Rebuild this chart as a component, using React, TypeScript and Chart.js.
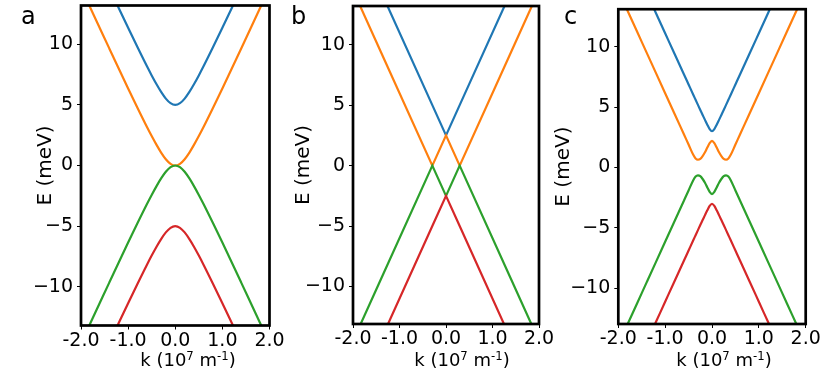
import React, { useEffect, useRef } from 'react';
import { Chart, registerables } from 'chart.js';

Chart.register(...registerables);

const FONT = "'DejaVu Sans', sans-serif";
const BLUE = '#1f77b4';
const ORANGE = '#ff7f0e';
const GREEN = '#2ca02c';
const RED = '#d62728';

// ---------- data (k in 10^7 m^-1, E in meV) ----------
const K_A = [-2.0, -1.8, -1.6, -1.4, -1.2, -1.0, -0.8, -0.6, -0.5, -0.4, -0.3, -0.2, -0.1, 0, 0.1, 0.2, 0.3, 0.4, 0.5, 0.6, 0.8, 1.0, 1.2, 1.4, 1.6, 1.8, 2.0];
const A_BLUE = [19.68, 18.0, 16.33, 14.66, 13.0, 11.36, 9.75, 8.18, 7.43, 6.72, 6.07, 5.52, 5.14, 5.0, 5.14, 5.52, 6.07, 6.72, 7.43, 8.18, 9.75, 11.36, 13.0, 14.66, 16.33, 18.0, 19.68];
const A_ORANGE = [14.68, 13.0, 11.33, 9.66, 8.0, 6.36, 4.75, 3.18, 2.43, 1.72, 1.07, 0.52, 0.14, 0, 0.14, 0.52, 1.07, 1.72, 2.43, 3.18, 4.75, 6.36, 8.0, 9.66, 11.33, 13.0, 14.68];
const A_GREEN = [-14.68, -13.0, -11.33, -9.66, -8.0, -6.36, -4.75, -3.18, -2.43, -1.72, -1.07, -0.52, -0.14, 0, -0.14, -0.52, -1.07, -1.72, -2.43, -3.18, -4.75, -6.36, -8.0, -9.66, -11.33, -13.0, -14.68];
const A_RED = [-19.68, -18.0, -16.33, -14.66, -13.0, -11.36, -9.75, -8.18, -7.43, -6.72, -6.07, -5.52, -5.14, -5.0, -5.14, -5.52, -6.07, -6.72, -7.43, -8.18, -9.75, -11.36, -13.0, -14.66, -16.33, -18.0, -19.68];

const K_B = [-2.0, -1.4, -0.294, 0, 0.294, 1.4, 2.0];
const B_BLUE = [19.5, 14.4, 5.0, 2.5, 5.0, 14.4, 19.5];
const B_ORANGE = [14.5, 9.4, 0, 2.5, 0, 9.4, 14.5];
const B_GREEN = [-14.5, -9.4, 0, -2.5, 0, -9.4, -14.5];
const B_RED = [-19.5, -14.4, -5.0, -2.5, -5.0, -14.4, -19.5];

const K_C = [-2.0, -1.8, -1.6, -1.4, -1.2, -1.0, -0.8, -0.6, -0.5, -0.4, -0.35, -0.3, -0.25, -0.2, -0.15, -0.1, -0.05, 0, 0.05, 0.1, 0.15, 0.2, 0.25, 0.3, 0.35, 0.4, 0.5, 0.6, 0.8, 1.0, 1.2, 1.4, 1.6, 1.8, 2.0];
const C_BLUE = [19.6, 17.9, 16.2, 14.51, 12.81, 11.11, 9.41, 7.72, 6.87, 6.02, 5.6, 5.18, 4.76, 4.35, 3.94, 3.54, 3.18, 3.0, 3.18, 3.54, 3.94, 4.35, 4.76, 5.18, 5.6, 6.02, 6.87, 7.72, 9.41, 11.11, 12.81, 14.51, 16.2, 17.9, 19.6];
const C_ORANGE = [14.65, 12.95, 11.25, 9.55, 7.85, 6.15, 4.45, 2.75, 1.9, 1.05, 0.75, 0.65, 0.72, 0.95, 1.26, 1.65, 2.02, 2.2, 2.02, 1.65, 1.26, 0.95, 0.72, 0.65, 0.75, 1.05, 1.9, 2.75, 4.45, 6.15, 7.85, 9.55, 11.25, 12.95, 14.65];
const C_GREEN = [-14.65, -12.95, -11.25, -9.55, -7.85, -6.15, -4.45, -2.75, -1.9, -1.05, -0.75, -0.65, -0.72, -0.95, -1.26, -1.65, -2.02, -2.2, -2.02, -1.65, -1.26, -0.95, -0.72, -0.65, -0.75, -1.05, -1.9, -2.75, -4.45, -6.15, -7.85, -9.55, -11.25, -12.95, -14.65];
const C_RED = [-19.6, -17.9, -16.2, -14.51, -12.81, -11.11, -9.41, -7.72, -6.87, -6.02, -5.6, -5.18, -4.76, -4.35, -3.94, -3.54, -3.18, -3.0, -3.18, -3.54, -3.94, -4.35, -4.76, -5.18, -5.6, -6.02, -6.87, -7.72, -9.41, -11.11, -12.81, -14.51, -16.2, -17.9, -19.6];

const X_MIN = -2;
const X_MAX = 2;
const X_STEP = 1;
const Y_STEP = 5;
const Y_TITLE = 'E (meV)';

// ---------- layout ----------
const PANELS = [
  { label: 'a', k: K_A, series: [A_BLUE, A_ORANGE, A_GREEN, A_RED], smooth: true,
    L: 81, R: 269.5, T: 5.5, B: 325.5, yMin: -13.2, yMax: 13.2, titleD: 35,
    labelX: 21, xTitleX: 188 },
  { label: 'b', k: K_B, series: [B_BLUE, B_ORANGE, B_GREEN, B_RED], smooth: false,
    L: 353, R: 539, T: 6, B: 324, yMin: -13.1, yMax: 13.2, titleD: 49,
    labelX: 291, xTitleX: 462 },
  { label: 'c', k: K_C, series: [C_BLUE, C_ORANGE, C_GREEN, C_RED], smooth: true,
    L: 618.3, R: 805.7, T: 9.2, B: 324, yMin: -12.95, yMax: 13.1, titleD: 54,
    labelX: 564, xTitleX: 724 },
];

const AXIS_W = 90;
const RIGHT_PAD = 30;
const TOP_SHIFT = 20;
const PAGE_H = 383;

const framePlugin = {
  id: 'frame',
  afterDraw(chart: any) {
    const { ctx, chartArea: a } = chart;
    ctx.save();
    ctx.strokeStyle = '#000';
    ctx.lineWidth = 2.7;
    ctx.strokeRect(a.left, a.top, a.right - a.left, a.bottom - a.top);
    ctx.restore();
  },
};

function Panel({ p }: { p: any }) {
  const ref = useRef<HTMLCanvasElement | null>(null);
  const left = Math.round(p.L) - AXIS_W;
  const axisW = p.L - left;
  const width = Math.ceil(axisW + (p.R - p.L) + RIGHT_PAD);
  const height = PAGE_H + TOP_SHIFT;
  const rightPad = width - axisW - (p.R - p.L);
  const xAxisH = PAGE_H - p.B;

  useEffect(() => {
    const colors = [BLUE, ORANGE, GREEN, RED];
    const datasets = p.series.map((vals: number[], si: number) => ({
      data: p.k.map((x: number, i: number) => ({ x, y: vals[i] })),
      borderColor: colors[si],
      backgroundColor: colors[si],
      borderWidth: 2.2,
      pointRadius: 0,
      fill: false,
      order: 4 - si,
      tension: 0,
      cubicInterpolationMode: p.smooth ? 'monotone' : 'default',
    }));
    const chart = new Chart(ref.current as HTMLCanvasElement, {
      type: 'line',
      data: { datasets },
      plugins: [framePlugin],
      options: {
        responsive: false,
        animation: false,
        devicePixelRatio: 1,
        layout: { padding: { left: 0, right: rightPad, top: p.T + TOP_SHIFT, bottom: 0 } },
        plugins: { legend: { display: false }, tooltip: { enabled: false } },
        events: [],
        scales: {
          x: {
            type: 'linear',
            min: X_MIN,
            max: X_MAX,
            border: { display: false },
            grid: { display: true, drawOnChartArea: false, drawTicks: true, tickLength: 4, color: '#000', lineWidth: 1 },
            ticks: {
              stepSize: X_STEP,
              includeBounds: false,
              autoSkip: false,
              maxRotation: 0,
              padding: 0,
              color: '#000',
              font: { family: FONT, size: 19 },
              callback: (v: any) => Number(v).toFixed(1),
            },
            afterFit: (s: any) => { s.height = xAxisH; },
          },
          y: {
            type: 'linear',
            min: p.yMin,
            max: p.yMax,
            border: { display: false },
            grid: { display: true, drawOnChartArea: false, drawTicks: true, tickLength: 4, color: '#000', lineWidth: 1 },
            ticks: {
              stepSize: Y_STEP,
              includeBounds: false,
              padding: 4,
              color: '#000',
              font: { family: FONT, size: 19 },
              callback: (v: any) => (v < 0 ? '\u2212' + Math.abs(v) : String(v)),
            },
            title: {
              display: true,
              text: Y_TITLE,
              color: '#000',
              font: { family: FONT, size: 20, lineHeight: 1 },
              padding: { top: AXIS_W - p.titleD - 10, bottom: 0 },
            },
            afterFit: (s: any) => { s.width = axisW; },
          },
        },
      } as any,
    });
    return () => chart.destroy();
  }, []);

  return (
    <>
      <canvas
        ref={ref}
        width={width}
        height={height}
        style={{ position: 'absolute', left, top: -TOP_SHIFT, width, height }}
      />
      <div style={{ position: 'absolute', left: p.labelX, top: 4, fontFamily: FONT, fontSize: 24, lineHeight: '24px', color: '#000' }}>
        {p.label}
      </div>
      <div
        style={{
          position: 'absolute', left: p.xTitleX, top: 361, transform: 'translate(-50%, -50%)',
          fontFamily: FONT, fontSize: 18, lineHeight: '18px', whiteSpace: 'nowrap', color: '#000',
        }}
      >
        k (10<span style={{ fontSize: '0.65em', position: 'relative', top: '-0.55em' }}>7</span>
        {' '}m<span style={{ fontSize: '0.65em', position: 'relative', top: '-0.55em' }}>-1</span>)
      </div>
    </>
  );
}

export default function App() {
  return (
    <div style={{ position: 'fixed', left: 0, top: 0, width: 830, height: PAGE_H, overflow: 'hidden', background: '#fff' }}>
      {PANELS.map((p) => (
        <Panel key={p.label} p={p} />
      ))}
    </div>
  );
}
